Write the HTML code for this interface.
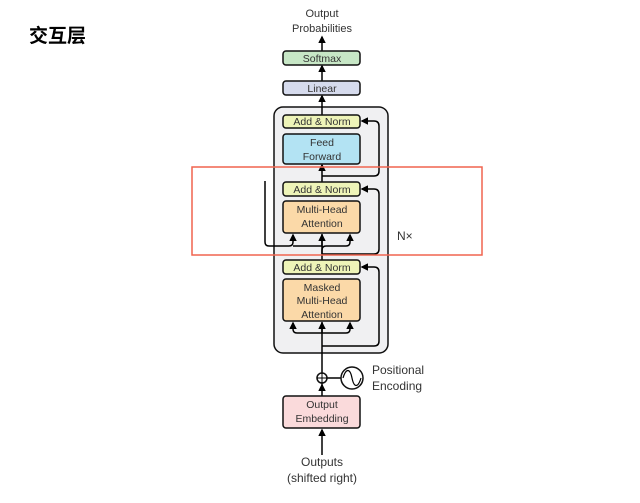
<!DOCTYPE html><html><head><meta charset="utf-8"><style>body{margin:0;background:#fff}svg{display:block}</style></head><body>
<svg width="640" height="503" viewBox="0 0 640 503" xmlns="http://www.w3.org/2000/svg" font-family="Liberation Sans, sans-serif">
<defs><marker id="a" viewBox="0 0 10 10" refX="8" refY="5" markerWidth="5" markerHeight="5" orient="auto"><path d="M0,0L10,5L0,10z" fill="#000"/></marker></defs>
<text x="29" y="42" font-family="Liberation Sans, Noto Sans CJK SC, sans-serif" font-weight="bold" font-size="19">交互层</text>
<g font-size="11" fill="#333" text-anchor="middle">
<text x="322" y="17">Output</text><text x="322" y="32">Probabilities</text>
</g>
<rect x="274" y="107" width="114" height="246" rx="9" fill="#f0f0f2" stroke="#111" stroke-width="1.5"/>
<g stroke="#000" stroke-width="1.5" fill="none">
<line x1="322" y1="51" x2="322" y2="37" marker-end="url(#a)"/>
<line x1="322" y1="81" x2="322" y2="66" marker-end="url(#a)"/>
<line x1="322" y1="115" x2="322" y2="96" marker-end="url(#a)"/>
<line x1="322" y1="182" x2="322" y2="165" marker-end="url(#a)"/>
<line x1="322" y1="260" x2="322" y2="234" />
<line x1="322" y1="396" x2="322" y2="322" />
<line x1="322" y1="455" x2="322" y2="430" marker-end="url(#a)"/>
<path d="M322,176H374Q379,176 379,171V126Q379,121 374,121H362" marker-end="url(#a)"/>
<path d="M322,254H374Q379,254 379,249V194Q379,189 374,189H362" marker-end="url(#a)"/>
<path d="M322,346H374Q379,346 379,341V272Q379,267 374,267H362" marker-end="url(#a)"/>
<path d="M265,181V242Q265,246 269,246H289Q293,246 293,242V235" marker-end="url(#a)"/>
<path d="M293,246H322V235" marker-end="url(#a)"/>
<path d="M322,254V250Q322,246 326,246H346Q350,246 350,242V235" marker-end="url(#a)"/>
<path d="M322,333H297Q293,333 293,329V323" marker-end="url(#a)"/>
<path d="M322,333H346Q350,333 350,329V323" marker-end="url(#a)"/>
<line x1="322" y1="333" x2="322" y2="323" marker-end="url(#a)"/>
<line x1="322" y1="390" x2="322" y2="385" marker-end="url(#a)"/>
<line x1="327" y1="378" x2="341" y2="378"/>
</g>
<g stroke="#111" stroke-width="1.5">
<rect x="283" y="51" width="77" height="14" rx="3" fill="#c7e7c6"/>
<rect x="283" y="81" width="77" height="14" rx="3" fill="#d6dbed"/>
<rect x="283" y="115" width="77" height="13" rx="3" fill="#eef4b8"/>
<rect x="283" y="134" width="77" height="30" rx="3" fill="#b3e3f3"/>
<rect x="283" y="182" width="77" height="14" rx="3" fill="#eef4b8"/>
<rect x="283" y="201" width="77" height="32" rx="3" fill="#fbd9a8"/>
<rect x="283" y="260" width="77" height="14" rx="3" fill="#eef4b8"/>
<rect x="283" y="279" width="77" height="42" rx="3" fill="#fbd9a8"/>
<rect x="283" y="396" width="77" height="32" rx="3" fill="#fadadb"/>
<circle cx="322" cy="378" r="5" fill="#fff"/>
<circle cx="352" cy="378" r="11" fill="#fff"/>
</g>
<path d="M322,373V383M317,378H327" stroke="#000" stroke-width="1"/>
<path d="M343,378C346,368 350,368 352,378S358,388 361,378" stroke="#000" stroke-width="1.2" fill="none"/>
<g font-size="10.5" fill="#333" text-anchor="middle">
<text x="322" y="62">Softmax</text>
<text x="322" y="92">Linear</text>
<text x="322" y="125">Add &amp; Norm</text>
<text x="322" y="146">Feed</text><text x="322" y="160">Forward</text>
<text x="322" y="193">Add &amp; Norm</text>
<text x="322" y="213">Multi-Head</text><text x="322" y="227">Attention</text>
<text x="322" y="271">Add &amp; Norm</text>
<text x="322" y="291">Masked</text><text x="322" y="304">Multi-Head</text><text x="322" y="318">Attention</text>
<text x="322" y="408">Output</text><text x="322" y="422">Embedding</text>
</g>
<g font-size="12" fill="#333">
<text x="372" y="374">Positional</text><text x="372" y="390">Encoding</text>
<text x="397" y="240">N×</text>
<text x="322" y="466" text-anchor="middle">Outputs</text>
<text x="322" y="482" text-anchor="middle">(shifted right)</text>
</g>
<rect x="192" y="167" width="290" height="88" fill="none" stroke="#f0644f" stroke-width="1.5"/>
</svg>
</body></html>
